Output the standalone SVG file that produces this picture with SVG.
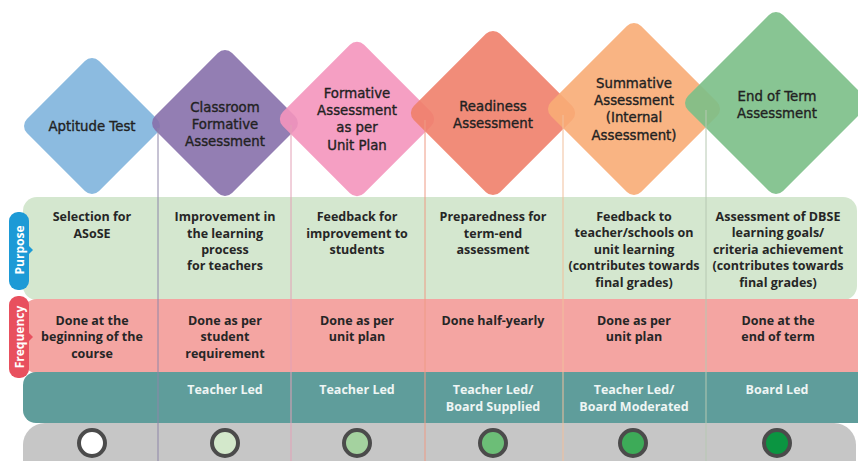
<svg xmlns="http://www.w3.org/2000/svg" width="858" height="461" viewBox="0 0 858 461">
<style>
.dia{font-family:"DejaVu Sans","Noto Sans",sans-serif;font-size:13.3px;fill:#222;stroke:#222;stroke-width:0.35;text-anchor:middle}
.cell{font-family:"Open Sans","Noto Sans",sans-serif;font-weight:700;font-size:12.5px;fill:#262626;text-anchor:middle}
.led{font-family:"Open Sans","Noto Sans",sans-serif;font-weight:700;font-size:12.5px;fill:#eef5f4;text-anchor:middle}
.tab{font-family:"Open Sans","Noto Sans",sans-serif;font-weight:700;font-size:12px;fill:#fff;text-anchor:middle}
.sep{stroke-width:1;fill:none}
.dot{stroke:#4b4b4b;stroke-width:4}
.d{fill-opacity:0.9}
</style>
<rect width="858" height="461" fill="#fff"/>
<g id="rows">
<rect x="23" y="197" width="834" height="103" rx="14" fill="#d4e7cf"/>
<rect x="23" y="299" width="860" height="74" rx="14" fill="#f4a5a2"/>
<rect x="23" y="372" width="860" height="51" rx="13" fill="#5f9d9b"/>
<rect x="23" y="423" width="833" height="60" rx="22" fill="#c6c6c6"/>
</g>
<g id="diamonds">
<g id="n1"><rect class="d" x="-51" y="-51" width="102" height="102" rx="10" fill="#7fb4dd" transform="translate(92,126) rotate(45)"/></g>
<g id="n2"><rect class="d" x="-54.5" y="-54.5" width="109" height="109" rx="10" fill="#8770ab" transform="translate(225,123) rotate(45)"/></g>
<g id="n3"><rect class="d" x="-57.5" y="-57.5" width="115" height="115" rx="10" fill="#f495bd" transform="translate(357,119) rotate(45)"/></g>
<g id="n4"><rect class="d" x="-61" y="-61" width="122" height="122" rx="10" fill="#f0806a" transform="translate(493,113) rotate(45)"/></g>
<g id="n5"><rect class="d" x="-63.75" y="-63.75" width="127.5" height="127.5" rx="10" fill="#f8ac76" transform="translate(634,109) rotate(45)"/></g>
<g id="n6"><rect class="d" x="-67.25" y="-67.25" width="134.5" height="134.5" rx="10" fill="#7bbf87" transform="translate(776,103) rotate(45)"/></g>
</g>
<g id="connectors">
<line class="sep" x1="158" y1="128" x2="158" y2="461" stroke="#8e86a8"/>
<line class="sep" x1="291" y1="125" x2="291" y2="461" stroke="#e3a0b6"/>
<line class="sep" x1="425" y1="120" x2="425" y2="461" stroke="#ee9a84"/>
<line class="sep" x1="563" y1="115" x2="563" y2="461" stroke="#f1bf9c"/>
<line class="sep" x1="706" y1="110" x2="706" y2="461" stroke="#b6c8b2"/>
</g>
<g id="labels">
<text class="dia" x="92" y="131">Aptitude Test</text>
<text class="dia" x="225" y="112">Classroom</text>
<text class="dia" x="225" y="129">Formative</text>
<text class="dia" x="225" y="146">Assessment</text>
<text class="dia" x="357" y="98">Formative</text>
<text class="dia" x="357" y="115">Assessment</text>
<text class="dia" x="357" y="132">as per</text>
<text class="dia" x="357" y="150">Unit Plan</text>
<text class="dia" x="493" y="111">Readiness</text>
<text class="dia" x="493" y="128">Assessment</text>
<text class="dia" x="634" y="88">Summative</text>
<text class="dia" x="634" y="105">Assessment</text>
<text class="dia" x="634" y="122">(Internal</text>
<text class="dia" x="634" y="140">Assessment)</text>
<text class="dia" x="777" y="101">End of Term</text>
<text class="dia" x="777" y="118">Assessment</text>
</g>
<g id="purpose">
<text class="cell" x="92" y="221">Selection for</text>
<text class="cell" x="92" y="238">ASoSE</text>
<text class="cell" x="225" y="221">Improvement in</text>
<text class="cell" x="225" y="238">the learning</text>
<text class="cell" x="225" y="254">process</text>
<text class="cell" x="225" y="270">for teachers</text>
<text class="cell" x="357" y="221">Feedback for</text>
<text class="cell" x="357" y="238">improvement to</text>
<text class="cell" x="357" y="254">students</text>
<text class="cell" x="493" y="221">Preparedness for</text>
<text class="cell" x="493" y="238">term-end</text>
<text class="cell" x="493" y="254">assessment</text>
<text class="cell" x="634" y="221">Feedback to</text>
<text class="cell" x="634" y="237">teacher/schools on</text>
<text class="cell" x="634" y="254">unit learning</text>
<text class="cell" x="634" y="270">(contributes towards</text>
<text class="cell" x="634" y="287">final grades)</text>
<text class="cell" x="778" y="221">Assessment of DBSE</text>
<text class="cell" x="778" y="237">learning goals/</text>
<text class="cell" x="778" y="254">criteria achievement</text>
<text class="cell" x="778" y="270">(contributes towards</text>
<text class="cell" x="778" y="287">final grades)</text>
</g>
<g id="frequency">
<text class="cell" x="92" y="325">Done at the</text>
<text class="cell" x="92" y="341">beginning of the</text>
<text class="cell" x="92" y="358">course</text>
<text class="cell" x="225" y="325">Done as per</text>
<text class="cell" x="225" y="341">student</text>
<text class="cell" x="225" y="358">requirement</text>
<text class="cell" x="357" y="325">Done as per</text>
<text class="cell" x="357" y="341">unit plan</text>
<text class="cell" x="493" y="325">Done half-yearly</text>
<text class="cell" x="634" y="325">Done as per</text>
<text class="cell" x="634" y="341">unit plan</text>
<text class="cell" x="778" y="325">Done at the</text>
<text class="cell" x="778" y="341">end of term</text>
</g>
<g id="led">
<text class="led" x="225" y="394">Teacher Led</text>
<text class="led" x="357" y="394">Teacher Led</text>
<text class="led" x="493" y="394">Teacher Led/</text>
<text class="led" x="493" y="411">Board Supplied</text>
<text class="led" x="634" y="394">Teacher Led/</text>
<text class="led" x="634" y="411">Board Moderated</text>
<text class="led" x="777" y="394">Board Led</text>
</g>
<g id="dots">
<circle class="dot" cx="92" cy="443" r="13" fill="#ffffff"/>
<circle class="dot" cx="225" cy="443" r="13" fill="#d3e8cb"/>
<circle class="dot" cx="357" cy="443" r="13" fill="#a4d29f"/>
<circle class="dot" cx="493" cy="443" r="13" fill="#6cbe77"/>
<circle class="dot" cx="633" cy="443" r="13" fill="#3dab58"/>
<circle class="dot" cx="777" cy="443" r="13" fill="#0b9541"/>
</g>
<g id="tab-purpose">
<rect x="9" y="212" width="20" height="78" rx="9" fill="#1d9ad6"/>
<path d="M28,245 L33,250 L28,255 Z" fill="#1d9ad6"/>
<text class="tab" transform="translate(23.5,250) rotate(-90)">Purpose</text>
</g>
<g id="tab-frequency">
<rect x="9" y="296" width="20" height="82" rx="9" fill="#e8505e"/>
<path d="M28,332 L33,337 L28,342 Z" fill="#e8505e"/>
<text class="tab" transform="translate(23.5,337) rotate(-90)">Frequency</text>
</g>
</svg>
